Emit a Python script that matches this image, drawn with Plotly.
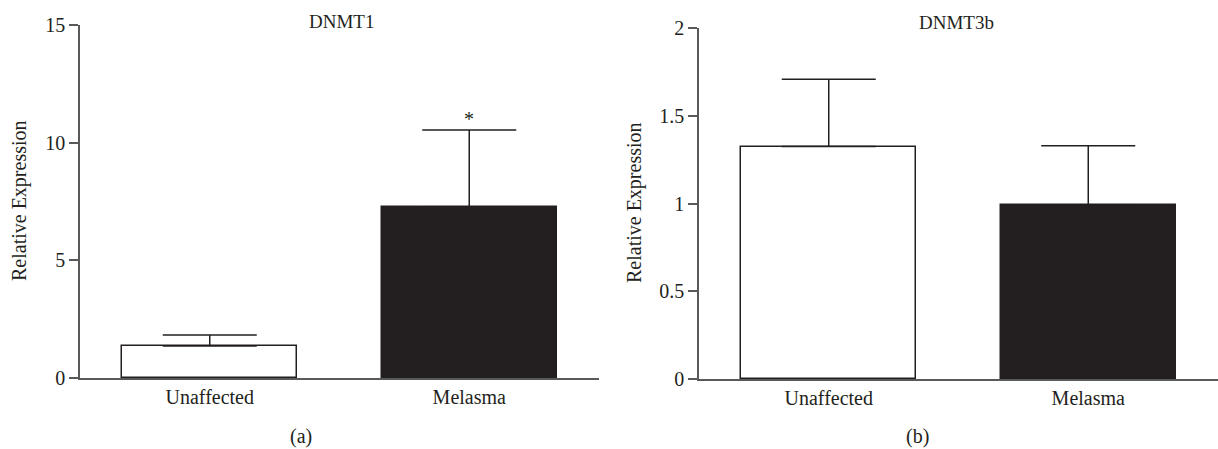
import plotly.graph_objects as go

categories = ["Unaffected", "Melasma"]
dnmt1_mean = [1.36, 7.25]
dnmt1_err = [0.47, 3.29]
dnmt3b_mean = [1.325, 0.993]
dnmt3b_err = [0.383, 0.337]
bar_colors = ["#ffffff", "#231f20"]
dnmt1_ticks = [0, 5, 10, 15]
dnmt3b_ticks = [0, 0.5, 1, 1.5, 2]

W, H = 1218, 449
INK = "#231f20"
AXC = "#58595b"
FONT = "Liberation Serif"

def px(x):
    return x / W

def py(y):
    return 1 - y / H

fig = go.Figure()

fig.add_trace(go.Bar(
    x=categories, y=dnmt1_mean, width=0.675,
    marker=dict(color=bar_colors, line=dict(color=INK, width=1.5)),
    error_y=dict(type="data", array=dnmt1_err, arrayminus=[0, 0], symmetric=False,
                 color=INK, thickness=1.5, width=47),
    xaxis="x", yaxis="y", showlegend=False, hoverinfo="skip",
))
fig.add_trace(go.Bar(
    x=categories, y=dnmt3b_mean, width=0.675,
    marker=dict(color=bar_colors, line=dict(color=INK, width=1.5)),
    error_y=dict(type="data", array=dnmt3b_err, arrayminus=[0, 0], symmetric=False,
                 color=INK, thickness=1.5, width=47),
    xaxis="x2", yaxis="y2", showlegend=False, hoverinfo="skip",
))

xcommon = dict(type="category", range=[-0.5, 1.5], showline=True, linecolor=AXC, linewidth=1.5,
               ticks="", showgrid=False, zeroline=False, fixedrange=True, automargin=False,
               tickfont=dict(family=FONT, size=20, color=INK))
ycommon = dict(showline=True, linecolor=AXC, linewidth=1.5, ticks="outside", ticklen=9,
               tickcolor=AXC, tickwidth=1.5, showgrid=False, zeroline=False, automargin=False,
               fixedrange=True, tickfont=dict(family=FONT, size=20, color=INK))

fig.update_layout(
    width=W, height=H,
    margin=dict(l=0, r=0, t=0, b=0, pad=0),
    paper_bgcolor="white", plot_bgcolor="white",
    xaxis=dict(domain=[px(80), px(599)], anchor="y", **xcommon),
    yaxis=dict(domain=[py(378), py(25)], anchor="x", range=[0, 15],
               tickvals=dnmt1_ticks, ticktext=[str(v) for v in dnmt1_ticks], **ycommon),
    xaxis2=dict(domain=[px(699), 1.0], anchor="y2", **xcommon),
    yaxis2=dict(domain=[py(379.3), py(28)], anchor="x2", range=[0, 2],
                tickvals=dnmt3b_ticks, ticktext=[f"{v:g}" for v in dnmt3b_ticks], **ycommon),
    bargap=0,
)

ann_font = dict(family=FONT, size=20, color=INK)
annotations = [
    dict(text="DNMT1", x=px(341.5), y=py(21), xref="paper", yref="paper",
         xanchor="center", yanchor="middle", showarrow=False, font=dict(family=FONT, size=19, color=INK)),
    dict(text="DNMT3b", x=px(956), y=py(23), xref="paper", yref="paper",
         xanchor="center", yanchor="middle", showarrow=False, font=dict(family=FONT, size=19, color=INK)),
    dict(text="Relative Expression", x=px(19), y=py(201), xref="paper", yref="paper", textangle=-90,
         xanchor="center", yanchor="middle", showarrow=False, font=ann_font),
    dict(text="Relative Expression", x=px(635), y=py(203), xref="paper", yref="paper", textangle=-90,
         xanchor="center", yanchor="middle", showarrow=False, font=ann_font),
    dict(text="(a)", x=px(301), y=py(436), xref="paper", yref="paper",
         xanchor="center", yanchor="middle", showarrow=False, font=dict(family=FONT, size=20, color=INK)),
    dict(text="(b)", x=px(917), y=py(436), xref="paper", yref="paper",
         xanchor="center", yanchor="middle", showarrow=False, font=dict(family=FONT, size=20, color=INK)),
    dict(text="*", x=categories[1], y=dnmt1_mean[1] + dnmt1_err[1], xref="x", yref="y",
         xanchor="center", yanchor="bottom", yshift=-2, showarrow=False,
         font=dict(family=FONT, size=20, color=INK)),
]
fig.update_layout(annotations=annotations)

fig.write_html("out.html", config={"displayModeBar": False},
               post_script="document.body.style.margin='0px';document.body.style.overflow='hidden';")
